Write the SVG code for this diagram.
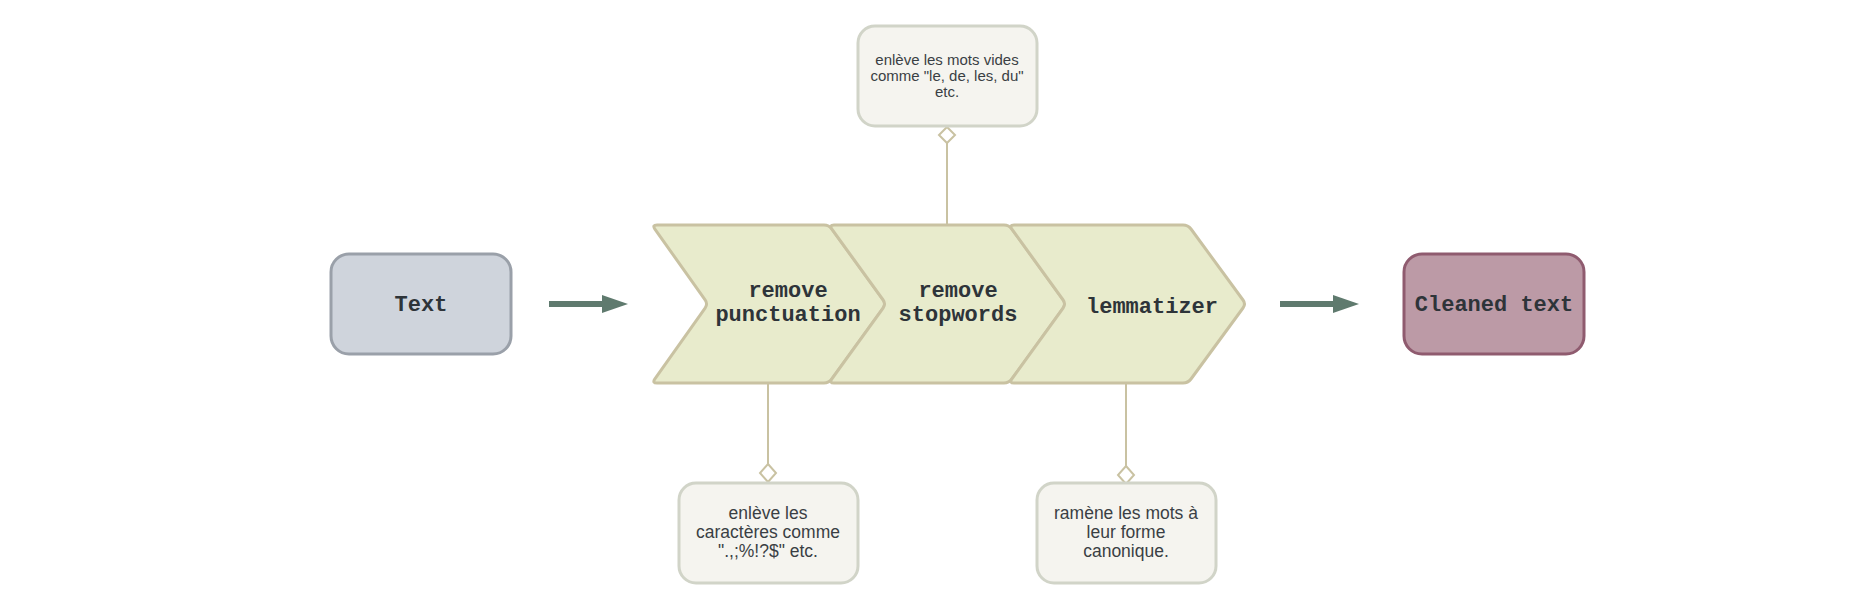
<svg xmlns="http://www.w3.org/2000/svg" width="1876" height="606" viewBox="0 0 1876 606">
<style>
.bg{fill:#ffffff}
.chev{fill:#e8ebcc;stroke:#c9c2a2;stroke-width:3;stroke-linejoin:round}
.lbl{font-family:"Liberation Mono","DejaVu Sans Mono",monospace;font-weight:bold;font-size:22px;fill:#2e3439;text-anchor:middle}
.note{fill:#f5f4ef;stroke:#d1d4c8;stroke-width:3}
.ntxt{font-family:"Liberation Sans","DejaVu Sans",sans-serif;fill:#3a3f44;text-anchor:middle}
.conn{stroke:#c9c2a2;stroke-width:2;fill:none}
.dia{fill:#ffffff;stroke:#c9c2a2;stroke-width:2}
.flow{stroke:#5f7a6e;stroke-width:6;fill:none}
</style>
<defs>
<marker id="ah" markerUnits="userSpaceOnUse" markerWidth="26" markerHeight="18" refX="0" refY="9" orient="auto">
<path d="M0,0 L26,9 L0,18 Z" fill="#5f7a6e"/>
</marker>
</defs>
<rect class="bg" x="0" y="0" width="1876" height="606"/>

<g id="connectors">
<line class="flow" x1="549" y1="304" x2="602" y2="304" marker-end="url(#ah)"/>
<line class="flow" x1="1280" y1="304" x2="1333" y2="304" marker-end="url(#ah)"/>
<line class="conn" x1="947" y1="143" x2="947" y2="225"/>
<path class="dia" d="M947,127 L955,135 L947,143 L939,135 Z"/>
<line class="conn" x1="768" y1="383" x2="768" y2="464"/>
<path class="dia" d="M768,464 L776,473 L768,482 L760,473 Z"/>
<line class="conn" x1="1126" y1="383" x2="1126" y2="466"/>
<path class="dia" d="M1126,466 L1134,475 L1126,484 L1118,475 Z"/>
</g>

<g id="text-node">
<rect x="331" y="254" width="180" height="100" rx="18" fill="#cfd4dc" stroke="#9aa0a9" stroke-width="3"/>
<text class="lbl" x="421" y="311">Text</text>
</g>

<g id="remove-punctuation">
<path class="chev" d="M657,225 L824,225 Q829,225 831.9,229.1 L883.1,299.9 Q886,304 883.1,308.1 L831.9,378.9 Q829,383 824,383 L657,383 Q652,383 654.9,378.9 L705.1,308.1 Q708,304 705.1,299.9 L654.9,229.1 Q652,225 657,225 Z"/>
<text class="lbl" x="788" y="297">remove</text>
<text class="lbl" x="788" y="321">punctuation</text>
</g>

<g id="remove-stopwords">
<path class="chev" d="M834,225 L1004,225 Q1009,225 1011.9,229.1 L1063.1,299.9 Q1066,304 1063.1,308.1 L1011.9,378.9 Q1009,383 1004,383 L834,383 Q829,383 831.9,378.9 L883.1,308.1 Q886,304 883.1,299.9 L831.9,229.1 Q829,225 834,225 Z"/>
<text class="lbl" x="958" y="297">remove</text>
<text class="lbl" x="958" y="321">stopwords</text>
</g>

<g id="lemmatizer">
<path class="chev" d="M1014,225 L1183,225 Q1188,225 1191,229 L1243,300 Q1246,304 1243,308 L1191,379 Q1188,383 1183,383 L1014,383 Q1009,383 1011.9,378.9 L1063.1,308.1 Q1066,304 1063.1,299.9 L1011.9,229.1 Q1009,225 1014,225 Z"/>
<text class="lbl" x="1152" y="313">lemmatizer</text>
</g>

<g id="cleaned-text">
<rect x="1404" y="254" width="180" height="100" rx="18" fill="#bc9aa6" stroke="#8f5b6f" stroke-width="3"/>
<text class="lbl" x="1494" y="311">Cleaned text</text>
</g>

<g id="note-stopwords">
<rect class="note" x="858" y="26" width="179" height="100" rx="17"/>
<text class="ntxt" x="947" y="65" font-size="15">enlève les mots vides</text>
<text class="ntxt" x="947" y="81" font-size="15">comme "le, de, les, du"</text>
<text class="ntxt" x="947" y="97" font-size="15">etc.</text>
</g>

<g id="note-punctuation">
<rect class="note" x="679" y="483" width="179" height="100" rx="17"/>
<text class="ntxt" x="768" y="519" font-size="17.5">enlève les</text>
<text class="ntxt" x="768" y="538" font-size="17.5">caractères comme</text>
<text class="ntxt" x="768" y="557" font-size="17.5">".,;%!?$" etc.</text>
</g>

<g id="note-lemmatizer">
<rect class="note" x="1037" y="483" width="179" height="100" rx="17"/>
<text class="ntxt" x="1126" y="519" font-size="17.5">ramène les mots à</text>
<text class="ntxt" x="1126" y="538" font-size="17.5">leur forme</text>
<text class="ntxt" x="1126" y="557" font-size="17.5">canonique.</text>
</g>
</svg>
